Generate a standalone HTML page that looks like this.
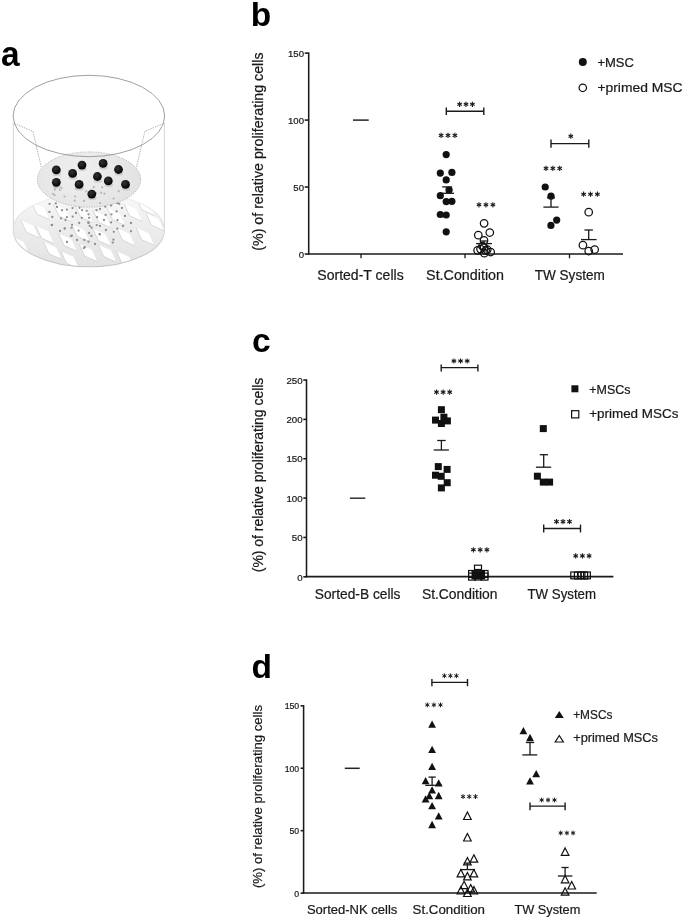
<!DOCTYPE html>
<html><head><meta charset="utf-8"><style>html,body{margin:0;padding:0;background:#fff;}svg{display:block;filter:grayscale(1) blur(0.3px);}text{font-family:"Liberation Sans",sans-serif;}</style></head><body>
<svg width="685" height="919" viewBox="0 0 685 919">
<rect width="685" height="919" fill="#fff"/>
<text x="1.00" y="66.40" font-size="34.5" text-anchor="start" font-weight="bold" fill="#000" textLength="18.60" lengthAdjust="spacingAndGlyphs" >a</text>
<text x="250.80" y="25.90" font-size="33.5" text-anchor="start" font-weight="bold" fill="#000" >b</text>
<text x="252.00" y="352.40" font-size="33.5" text-anchor="start" font-weight="bold" fill="#000" >c</text>
<text x="251.40" y="678.20" font-size="33.5" text-anchor="start" font-weight="bold" fill="#000" >d</text>
<line x1="308.70" y1="254.70" x2="308.70" y2="52.40" stroke="#1a1a1a" stroke-width="1.55" />
<line x1="304.70" y1="254.00" x2="308.70" y2="254.00" stroke="#1a1a1a" stroke-width="1.55" />
<text x="304.00" y="258.18" font-size="9.6" text-anchor="end" font-weight="normal" fill="#1a1a1a" stroke="#1a1a1a" stroke-width="0.22" >0</text>
<line x1="304.70" y1="187.03" x2="308.70" y2="187.03" stroke="#1a1a1a" stroke-width="1.55" />
<text x="304.00" y="191.21" font-size="9.6" text-anchor="end" font-weight="normal" fill="#1a1a1a" stroke="#1a1a1a" stroke-width="0.22" >50</text>
<line x1="304.70" y1="120.07" x2="308.70" y2="120.07" stroke="#1a1a1a" stroke-width="1.55" />
<text x="304.00" y="124.24" font-size="9.6" text-anchor="end" font-weight="normal" fill="#1a1a1a" stroke="#1a1a1a" stroke-width="0.22" >100</text>
<line x1="304.70" y1="53.10" x2="308.70" y2="53.10" stroke="#1a1a1a" stroke-width="1.55" />
<text x="304.00" y="57.28" font-size="9.6" text-anchor="end" font-weight="normal" fill="#1a1a1a" stroke="#1a1a1a" stroke-width="0.22" >150</text>
<line x1="308.10" y1="254.00" x2="623.00" y2="254.00" stroke="#1a1a1a" stroke-width="1.55" />
<line x1="361.00" y1="254.00" x2="361.00" y2="258.30" stroke="#1a1a1a" stroke-width="1.3" />
<line x1="465.00" y1="254.00" x2="465.00" y2="258.30" stroke="#1a1a1a" stroke-width="1.3" />
<line x1="569.50" y1="254.00" x2="569.50" y2="258.30" stroke="#1a1a1a" stroke-width="1.3" />
<text transform="translate(263.40,250.70) rotate(-90)" x="0" y="0" font-size="14" fill="#1a1a1a" stroke="#1a1a1a" stroke-width="0.22" textLength="198.20" lengthAdjust="spacingAndGlyphs">(%) of relative proliferating cells</text>
<text x="317.30" y="279.90" font-size="14" text-anchor="start" font-weight="normal" fill="#1a1a1a" stroke="#1a1a1a" stroke-width="0.22" textLength="86.40" lengthAdjust="spacingAndGlyphs" >Sorted-T cells</text>
<text x="426.10" y="279.90" font-size="14" text-anchor="start" font-weight="normal" fill="#1a1a1a" stroke="#1a1a1a" stroke-width="0.22" textLength="77.90" lengthAdjust="spacingAndGlyphs" >St.Condition</text>
<text x="534.70" y="279.90" font-size="14" text-anchor="start" font-weight="normal" fill="#1a1a1a" stroke="#1a1a1a" stroke-width="0.22" textLength="70.10" lengthAdjust="spacingAndGlyphs" >TW System</text>
<line x1="353.00" y1="120.10" x2="368.70" y2="120.10" stroke="#222" stroke-width="1.5" />
<line x1="446.30" y1="111.30" x2="483.80" y2="111.30" stroke="#1a1a1a" stroke-width="1.4" />
<line x1="446.30" y1="107.60" x2="446.30" y2="115.00" stroke="#1a1a1a" stroke-width="1.4" />
<line x1="483.80" y1="107.60" x2="483.80" y2="115.00" stroke="#1a1a1a" stroke-width="1.4" />
<line x1="459.60" y1="101.70" x2="459.60" y2="106.90" stroke="#1a1a1a" stroke-width="1.1" />
<line x1="457.35" y1="103.00" x2="461.85" y2="105.60" stroke="#1a1a1a" stroke-width="1.1" />
<line x1="461.85" y1="103.00" x2="457.35" y2="105.60" stroke="#1a1a1a" stroke-width="1.1" />
<line x1="466.00" y1="101.70" x2="466.00" y2="106.90" stroke="#1a1a1a" stroke-width="1.1" />
<line x1="463.75" y1="103.00" x2="468.25" y2="105.60" stroke="#1a1a1a" stroke-width="1.1" />
<line x1="468.25" y1="103.00" x2="463.75" y2="105.60" stroke="#1a1a1a" stroke-width="1.1" />
<line x1="472.40" y1="101.70" x2="472.40" y2="106.90" stroke="#1a1a1a" stroke-width="1.1" />
<line x1="470.15" y1="103.00" x2="474.65" y2="105.60" stroke="#1a1a1a" stroke-width="1.1" />
<line x1="474.65" y1="103.00" x2="470.15" y2="105.60" stroke="#1a1a1a" stroke-width="1.1" />
<line x1="551.00" y1="143.60" x2="588.80" y2="143.60" stroke="#1a1a1a" stroke-width="1.4" />
<line x1="551.00" y1="139.50" x2="551.00" y2="147.70" stroke="#1a1a1a" stroke-width="1.4" />
<line x1="588.80" y1="139.50" x2="588.80" y2="147.70" stroke="#1a1a1a" stroke-width="1.4" />
<line x1="570.80" y1="133.60" x2="570.80" y2="138.80" stroke="#1a1a1a" stroke-width="1.1" />
<line x1="568.55" y1="134.90" x2="573.05" y2="137.50" stroke="#1a1a1a" stroke-width="1.1" />
<line x1="573.05" y1="134.90" x2="568.55" y2="137.50" stroke="#1a1a1a" stroke-width="1.1" />
<line x1="441.10" y1="132.80" x2="441.10" y2="138.00" stroke="#1a1a1a" stroke-width="1.1" />
<line x1="438.85" y1="134.10" x2="443.35" y2="136.70" stroke="#1a1a1a" stroke-width="1.1" />
<line x1="443.35" y1="134.10" x2="438.85" y2="136.70" stroke="#1a1a1a" stroke-width="1.1" />
<line x1="448.00" y1="132.80" x2="448.00" y2="138.00" stroke="#1a1a1a" stroke-width="1.1" />
<line x1="445.75" y1="134.10" x2="450.25" y2="136.70" stroke="#1a1a1a" stroke-width="1.1" />
<line x1="450.25" y1="134.10" x2="445.75" y2="136.70" stroke="#1a1a1a" stroke-width="1.1" />
<line x1="454.90" y1="132.80" x2="454.90" y2="138.00" stroke="#1a1a1a" stroke-width="1.1" />
<line x1="452.65" y1="134.10" x2="457.15" y2="136.70" stroke="#1a1a1a" stroke-width="1.1" />
<line x1="457.15" y1="134.10" x2="452.65" y2="136.70" stroke="#1a1a1a" stroke-width="1.1" />
<line x1="479.00" y1="202.20" x2="479.00" y2="207.40" stroke="#1a1a1a" stroke-width="1.1" />
<line x1="476.75" y1="203.50" x2="481.25" y2="206.10" stroke="#1a1a1a" stroke-width="1.1" />
<line x1="481.25" y1="203.50" x2="476.75" y2="206.10" stroke="#1a1a1a" stroke-width="1.1" />
<line x1="485.95" y1="202.20" x2="485.95" y2="207.40" stroke="#1a1a1a" stroke-width="1.1" />
<line x1="483.70" y1="203.50" x2="488.20" y2="206.10" stroke="#1a1a1a" stroke-width="1.1" />
<line x1="488.20" y1="203.50" x2="483.70" y2="206.10" stroke="#1a1a1a" stroke-width="1.1" />
<line x1="492.90" y1="202.20" x2="492.90" y2="207.40" stroke="#1a1a1a" stroke-width="1.1" />
<line x1="490.65" y1="203.50" x2="495.15" y2="206.10" stroke="#1a1a1a" stroke-width="1.1" />
<line x1="495.15" y1="203.50" x2="490.65" y2="206.10" stroke="#1a1a1a" stroke-width="1.1" />
<line x1="546.00" y1="165.80" x2="546.00" y2="171.00" stroke="#1a1a1a" stroke-width="1.1" />
<line x1="543.75" y1="167.10" x2="548.25" y2="169.70" stroke="#1a1a1a" stroke-width="1.1" />
<line x1="548.25" y1="167.10" x2="543.75" y2="169.70" stroke="#1a1a1a" stroke-width="1.1" />
<line x1="552.85" y1="165.80" x2="552.85" y2="171.00" stroke="#1a1a1a" stroke-width="1.1" />
<line x1="550.60" y1="167.10" x2="555.10" y2="169.70" stroke="#1a1a1a" stroke-width="1.1" />
<line x1="555.10" y1="167.10" x2="550.60" y2="169.70" stroke="#1a1a1a" stroke-width="1.1" />
<line x1="559.70" y1="165.80" x2="559.70" y2="171.00" stroke="#1a1a1a" stroke-width="1.1" />
<line x1="557.45" y1="167.10" x2="561.95" y2="169.70" stroke="#1a1a1a" stroke-width="1.1" />
<line x1="561.95" y1="167.10" x2="557.45" y2="169.70" stroke="#1a1a1a" stroke-width="1.1" />
<line x1="583.60" y1="191.60" x2="583.60" y2="196.80" stroke="#1a1a1a" stroke-width="1.1" />
<line x1="581.35" y1="192.90" x2="585.85" y2="195.50" stroke="#1a1a1a" stroke-width="1.1" />
<line x1="585.85" y1="192.90" x2="581.35" y2="195.50" stroke="#1a1a1a" stroke-width="1.1" />
<line x1="590.50" y1="191.60" x2="590.50" y2="196.80" stroke="#1a1a1a" stroke-width="1.1" />
<line x1="588.25" y1="192.90" x2="592.75" y2="195.50" stroke="#1a1a1a" stroke-width="1.1" />
<line x1="592.75" y1="192.90" x2="588.25" y2="195.50" stroke="#1a1a1a" stroke-width="1.1" />
<line x1="597.40" y1="191.60" x2="597.40" y2="196.80" stroke="#1a1a1a" stroke-width="1.1" />
<line x1="595.15" y1="192.90" x2="599.65" y2="195.50" stroke="#1a1a1a" stroke-width="1.1" />
<line x1="599.65" y1="192.90" x2="595.15" y2="195.50" stroke="#1a1a1a" stroke-width="1.1" />
<circle cx="446.20" cy="154.60" r="3.6" fill="#111"/>
<circle cx="440.30" cy="173.10" r="3.6" fill="#111"/>
<circle cx="451.90" cy="172.40" r="3.6" fill="#111"/>
<circle cx="446.20" cy="179.90" r="3.6" fill="#111"/>
<circle cx="449.10" cy="190.00" r="3.6" fill="#111"/>
<circle cx="440.30" cy="195.70" r="3.6" fill="#111"/>
<circle cx="446.20" cy="201.60" r="3.6" fill="#111"/>
<circle cx="451.90" cy="201.30" r="3.6" fill="#111"/>
<circle cx="440.30" cy="214.50" r="3.6" fill="#111"/>
<circle cx="446.20" cy="215.00" r="3.6" fill="#111"/>
<circle cx="446.20" cy="231.80" r="3.6" fill="#111"/>
<line x1="446.50" y1="186.90" x2="446.50" y2="193.30" stroke="#1a1a1a" stroke-width="1.3" />
<line x1="442.20" y1="186.90" x2="452.20" y2="186.90" stroke="#1a1a1a" stroke-width="1.3" />
<line x1="441.50" y1="193.30" x2="454.00" y2="193.30" stroke="#1a1a1a" stroke-width="1.3" />
<circle cx="484.10" cy="223.30" r="3.75" fill="none" stroke="#111" stroke-width="1.25"/>
<circle cx="489.80" cy="232.50" r="3.75" fill="none" stroke="#111" stroke-width="1.25"/>
<circle cx="478.30" cy="235.20" r="3.75" fill="none" stroke="#111" stroke-width="1.25"/>
<circle cx="484.00" cy="240.40" r="3.75" fill="none" stroke="#111" stroke-width="1.25"/>
<circle cx="484.00" cy="247.40" r="3.75" fill="none" stroke="#111" stroke-width="1.25"/>
<circle cx="477.60" cy="250.30" r="3.75" fill="none" stroke="#111" stroke-width="1.25"/>
<circle cx="480.50" cy="249.10" r="3.75" fill="none" stroke="#111" stroke-width="1.25"/>
<circle cx="487.20" cy="249.70" r="3.75" fill="none" stroke="#111" stroke-width="1.25"/>
<circle cx="490.70" cy="252.00" r="3.75" fill="none" stroke="#111" stroke-width="1.25"/>
<circle cx="484.30" cy="253.20" r="3.75" fill="none" stroke="#111" stroke-width="1.25"/>
<circle cx="482.50" cy="246.20" r="3.75" fill="none" stroke="#111" stroke-width="1.25"/>
<circle cx="485.60" cy="250.60" r="3.75" fill="none" stroke="#111" stroke-width="1.25"/>
<line x1="484.00" y1="241.00" x2="484.00" y2="243.60" stroke="#1a1a1a" stroke-width="1.3" />
<line x1="480.80" y1="241.00" x2="487.20" y2="241.00" stroke="#1a1a1a" stroke-width="1.3" />
<line x1="476.10" y1="243.60" x2="491.90" y2="243.60" stroke="#1a1a1a" stroke-width="1.3" />
<circle cx="545.20" cy="187.00" r="3.6" fill="#111"/>
<circle cx="551.00" cy="196.20" r="3.6" fill="#111"/>
<circle cx="556.70" cy="220.10" r="3.6" fill="#111"/>
<circle cx="550.90" cy="225.40" r="3.6" fill="#111"/>
<line x1="551.00" y1="197.70" x2="551.00" y2="207.10" stroke="#1a1a1a" stroke-width="1.3" />
<line x1="547.00" y1="197.70" x2="555.00" y2="197.70" stroke="#1a1a1a" stroke-width="1.3" />
<line x1="543.40" y1="207.10" x2="558.60" y2="207.10" stroke="#1a1a1a" stroke-width="1.3" />
<circle cx="588.70" cy="212.20" r="3.75" fill="none" stroke="#111" stroke-width="1.25"/>
<circle cx="582.90" cy="245.20" r="3.75" fill="none" stroke="#111" stroke-width="1.25"/>
<circle cx="588.70" cy="251.00" r="3.75" fill="none" stroke="#111" stroke-width="1.25"/>
<circle cx="594.70" cy="249.50" r="3.75" fill="none" stroke="#111" stroke-width="1.25"/>
<line x1="588.70" y1="230.00" x2="588.70" y2="239.60" stroke="#1a1a1a" stroke-width="1.3" />
<line x1="584.40" y1="230.00" x2="592.90" y2="230.00" stroke="#1a1a1a" stroke-width="1.3" />
<line x1="581.00" y1="239.60" x2="596.60" y2="239.60" stroke="#1a1a1a" stroke-width="1.3" />
<circle cx="582.80" cy="61.90" r="4.0" fill="#111"/>
<circle cx="582.80" cy="87.80" r="3.7" fill="none" stroke="#111" stroke-width="1.25"/>
<text x="597.40" y="67.00" font-size="13" text-anchor="start" font-weight="normal" fill="#1a1a1a" stroke="#1a1a1a" stroke-width="0.22" textLength="36.50" lengthAdjust="spacingAndGlyphs" >+MSC</text>
<text x="597.40" y="92.00" font-size="13" text-anchor="start" font-weight="normal" fill="#1a1a1a" stroke="#1a1a1a" stroke-width="0.22" textLength="85.20" lengthAdjust="spacingAndGlyphs" >+primed MSC</text>
<line x1="306.50" y1="577.50" x2="306.50" y2="379.30" stroke="#1a1a1a" stroke-width="1.55" />
<line x1="303.30" y1="576.80" x2="306.50" y2="576.80" stroke="#1a1a1a" stroke-width="1.55" />
<text x="302.60" y="580.52" font-size="9.7" text-anchor="end" font-weight="normal" fill="#1a1a1a" stroke="#1a1a1a" stroke-width="0.22" >0</text>
<line x1="303.30" y1="537.44" x2="306.50" y2="537.44" stroke="#1a1a1a" stroke-width="1.55" />
<text x="302.60" y="541.16" font-size="9.7" text-anchor="end" font-weight="normal" fill="#1a1a1a" stroke="#1a1a1a" stroke-width="0.22" >50</text>
<line x1="303.30" y1="498.08" x2="306.50" y2="498.08" stroke="#1a1a1a" stroke-width="1.55" />
<text x="302.60" y="501.80" font-size="9.7" text-anchor="end" font-weight="normal" fill="#1a1a1a" stroke="#1a1a1a" stroke-width="0.22" >100</text>
<line x1="303.30" y1="458.72" x2="306.50" y2="458.72" stroke="#1a1a1a" stroke-width="1.55" />
<text x="302.60" y="462.44" font-size="9.7" text-anchor="end" font-weight="normal" fill="#1a1a1a" stroke="#1a1a1a" stroke-width="0.22" >150</text>
<line x1="303.30" y1="419.36" x2="306.50" y2="419.36" stroke="#1a1a1a" stroke-width="1.55" />
<text x="302.60" y="423.08" font-size="9.7" text-anchor="end" font-weight="normal" fill="#1a1a1a" stroke="#1a1a1a" stroke-width="0.22" >200</text>
<line x1="303.30" y1="380.00" x2="306.50" y2="380.00" stroke="#1a1a1a" stroke-width="1.55" />
<text x="302.60" y="383.72" font-size="9.7" text-anchor="end" font-weight="normal" fill="#1a1a1a" stroke="#1a1a1a" stroke-width="0.22" >250</text>
<line x1="305.90" y1="576.60" x2="613.40" y2="576.60" stroke="#1a1a1a" stroke-width="1.55" />
<text transform="translate(263.00,572.20) rotate(-90)" x="0" y="0" font-size="14" fill="#1a1a1a" stroke="#1a1a1a" stroke-width="0.22" textLength="194.50" lengthAdjust="spacingAndGlyphs">(%) of relative proliferating cells</text>
<text x="314.80" y="598.80" font-size="14" text-anchor="start" font-weight="normal" fill="#1a1a1a" stroke="#1a1a1a" stroke-width="0.22" textLength="85.60" lengthAdjust="spacingAndGlyphs" >Sorted-B cells</text>
<text x="421.90" y="598.80" font-size="14" text-anchor="start" font-weight="normal" fill="#1a1a1a" stroke="#1a1a1a" stroke-width="0.22" textLength="75.50" lengthAdjust="spacingAndGlyphs" >St.Condition</text>
<text x="527.50" y="598.80" font-size="14" text-anchor="start" font-weight="normal" fill="#1a1a1a" stroke="#1a1a1a" stroke-width="0.22" textLength="68.50" lengthAdjust="spacingAndGlyphs" >TW System</text>
<line x1="349.90" y1="498.20" x2="365.30" y2="498.20" stroke="#333" stroke-width="1.5" />
<line x1="441.20" y1="367.60" x2="477.90" y2="367.60" stroke="#1a1a1a" stroke-width="1.4" />
<line x1="441.20" y1="364.40" x2="441.20" y2="371.50" stroke="#1a1a1a" stroke-width="1.4" />
<line x1="477.90" y1="364.40" x2="477.90" y2="371.50" stroke="#1a1a1a" stroke-width="1.4" />
<line x1="453.90" y1="358.40" x2="453.90" y2="363.60" stroke="#1a1a1a" stroke-width="1.1" />
<line x1="451.65" y1="359.70" x2="456.15" y2="362.30" stroke="#1a1a1a" stroke-width="1.1" />
<line x1="456.15" y1="359.70" x2="451.65" y2="362.30" stroke="#1a1a1a" stroke-width="1.1" />
<line x1="460.55" y1="358.40" x2="460.55" y2="363.60" stroke="#1a1a1a" stroke-width="1.1" />
<line x1="458.30" y1="359.70" x2="462.80" y2="362.30" stroke="#1a1a1a" stroke-width="1.1" />
<line x1="462.80" y1="359.70" x2="458.30" y2="362.30" stroke="#1a1a1a" stroke-width="1.1" />
<line x1="467.20" y1="358.40" x2="467.20" y2="363.60" stroke="#1a1a1a" stroke-width="1.1" />
<line x1="464.95" y1="359.70" x2="469.45" y2="362.30" stroke="#1a1a1a" stroke-width="1.1" />
<line x1="469.45" y1="359.70" x2="464.95" y2="362.30" stroke="#1a1a1a" stroke-width="1.1" />
<line x1="543.70" y1="528.50" x2="580.50" y2="528.50" stroke="#1a1a1a" stroke-width="1.4" />
<line x1="543.70" y1="524.60" x2="543.70" y2="532.40" stroke="#1a1a1a" stroke-width="1.4" />
<line x1="580.50" y1="524.60" x2="580.50" y2="532.40" stroke="#1a1a1a" stroke-width="1.4" />
<line x1="556.50" y1="519.00" x2="556.50" y2="524.20" stroke="#1a1a1a" stroke-width="1.1" />
<line x1="554.25" y1="520.30" x2="558.75" y2="522.90" stroke="#1a1a1a" stroke-width="1.1" />
<line x1="558.75" y1="520.30" x2="554.25" y2="522.90" stroke="#1a1a1a" stroke-width="1.1" />
<line x1="563.00" y1="519.00" x2="563.00" y2="524.20" stroke="#1a1a1a" stroke-width="1.1" />
<line x1="560.75" y1="520.30" x2="565.25" y2="522.90" stroke="#1a1a1a" stroke-width="1.1" />
<line x1="565.25" y1="520.30" x2="560.75" y2="522.90" stroke="#1a1a1a" stroke-width="1.1" />
<line x1="569.50" y1="519.00" x2="569.50" y2="524.20" stroke="#1a1a1a" stroke-width="1.1" />
<line x1="567.25" y1="520.30" x2="571.75" y2="522.90" stroke="#1a1a1a" stroke-width="1.1" />
<line x1="571.75" y1="520.30" x2="567.25" y2="522.90" stroke="#1a1a1a" stroke-width="1.1" />
<line x1="436.50" y1="389.50" x2="436.50" y2="394.70" stroke="#1a1a1a" stroke-width="1.1" />
<line x1="434.25" y1="390.80" x2="438.75" y2="393.40" stroke="#1a1a1a" stroke-width="1.1" />
<line x1="438.75" y1="390.80" x2="434.25" y2="393.40" stroke="#1a1a1a" stroke-width="1.1" />
<line x1="443.10" y1="389.50" x2="443.10" y2="394.70" stroke="#1a1a1a" stroke-width="1.1" />
<line x1="440.85" y1="390.80" x2="445.35" y2="393.40" stroke="#1a1a1a" stroke-width="1.1" />
<line x1="445.35" y1="390.80" x2="440.85" y2="393.40" stroke="#1a1a1a" stroke-width="1.1" />
<line x1="449.70" y1="389.50" x2="449.70" y2="394.70" stroke="#1a1a1a" stroke-width="1.1" />
<line x1="447.45" y1="390.80" x2="451.95" y2="393.40" stroke="#1a1a1a" stroke-width="1.1" />
<line x1="451.95" y1="390.80" x2="447.45" y2="393.40" stroke="#1a1a1a" stroke-width="1.1" />
<line x1="473.40" y1="547.20" x2="473.40" y2="552.40" stroke="#1a1a1a" stroke-width="1.1" />
<line x1="471.15" y1="548.50" x2="475.65" y2="551.10" stroke="#1a1a1a" stroke-width="1.1" />
<line x1="475.65" y1="548.50" x2="471.15" y2="551.10" stroke="#1a1a1a" stroke-width="1.1" />
<line x1="480.15" y1="547.20" x2="480.15" y2="552.40" stroke="#1a1a1a" stroke-width="1.1" />
<line x1="477.90" y1="548.50" x2="482.40" y2="551.10" stroke="#1a1a1a" stroke-width="1.1" />
<line x1="482.40" y1="548.50" x2="477.90" y2="551.10" stroke="#1a1a1a" stroke-width="1.1" />
<line x1="486.90" y1="547.20" x2="486.90" y2="552.40" stroke="#1a1a1a" stroke-width="1.1" />
<line x1="484.65" y1="548.50" x2="489.15" y2="551.10" stroke="#1a1a1a" stroke-width="1.1" />
<line x1="489.15" y1="548.50" x2="484.65" y2="551.10" stroke="#1a1a1a" stroke-width="1.1" />
<line x1="575.70" y1="553.30" x2="575.70" y2="558.50" stroke="#1a1a1a" stroke-width="1.1" />
<line x1="573.45" y1="554.60" x2="577.95" y2="557.20" stroke="#1a1a1a" stroke-width="1.1" />
<line x1="577.95" y1="554.60" x2="573.45" y2="557.20" stroke="#1a1a1a" stroke-width="1.1" />
<line x1="582.40" y1="553.30" x2="582.40" y2="558.50" stroke="#1a1a1a" stroke-width="1.1" />
<line x1="580.15" y1="554.60" x2="584.65" y2="557.20" stroke="#1a1a1a" stroke-width="1.1" />
<line x1="584.65" y1="554.60" x2="580.15" y2="557.20" stroke="#1a1a1a" stroke-width="1.1" />
<line x1="589.10" y1="553.30" x2="589.10" y2="558.50" stroke="#1a1a1a" stroke-width="1.1" />
<line x1="586.85" y1="554.60" x2="591.35" y2="557.20" stroke="#1a1a1a" stroke-width="1.1" />
<line x1="591.35" y1="554.60" x2="586.85" y2="557.20" stroke="#1a1a1a" stroke-width="1.1" />
<rect x="437.90" y="406.20" width="7.0" height="7.0" fill="#111"/>
<rect x="432.00" y="416.60" width="7.0" height="7.0" fill="#111"/>
<rect x="440.40" y="413.70" width="7.0" height="7.0" fill="#111"/>
<rect x="443.90" y="417.40" width="7.0" height="7.0" fill="#111"/>
<rect x="437.90" y="420.00" width="7.0" height="7.0" fill="#111"/>
<rect x="434.80" y="463.10" width="7.0" height="7.0" fill="#111"/>
<rect x="443.60" y="465.90" width="7.0" height="7.0" fill="#111"/>
<rect x="432.00" y="471.70" width="7.0" height="7.0" fill="#111"/>
<rect x="437.70" y="472.80" width="7.0" height="7.0" fill="#111"/>
<rect x="443.70" y="479.20" width="7.0" height="7.0" fill="#111"/>
<rect x="437.90" y="484.40" width="7.0" height="7.0" fill="#111"/>
<line x1="441.40" y1="440.50" x2="441.40" y2="450.00" stroke="#1a1a1a" stroke-width="1.3" />
<line x1="437.20" y1="440.50" x2="445.70" y2="440.50" stroke="#1a1a1a" stroke-width="1.3" />
<line x1="433.70" y1="450.00" x2="448.90" y2="450.00" stroke="#1a1a1a" stroke-width="1.3" />
<rect x="474.50" y="565.20" width="7.0" height="7.0" fill="none" stroke="#111" stroke-width="1.2"/>
<rect x="471.5" y="571.0" width="13.5" height="8.4" fill="#111"/>
<rect x="474.2" y="568.9" width="7.6" height="3" fill="#111"/>
<rect x="468.60" y="570.50" width="7.0" height="7.0" fill="none" stroke="#111" stroke-width="1.2"/>
<rect x="468.60" y="573.10" width="7.0" height="7.0" fill="none" stroke="#111" stroke-width="1.2"/>
<rect x="481.00" y="570.50" width="7.0" height="7.0" fill="none" stroke="#111" stroke-width="1.2"/>
<rect x="481.00" y="573.10" width="7.0" height="7.0" fill="none" stroke="#111" stroke-width="1.2"/>
<rect x="473.00" y="570.70" width="7.0" height="7.0" fill="none" stroke="#111" stroke-width="1.2"/>
<rect x="477.00" y="570.70" width="7.0" height="7.0" fill="none" stroke="#111" stroke-width="1.2"/>
<rect x="474.70" y="573.00" width="7.0" height="7.0" fill="none" stroke="#111" stroke-width="1.2"/>
<line x1="474.00" y1="571.00" x2="482.00" y2="571.00" stroke="#1a1a1a" stroke-width="1.4" />
<rect x="539.80" y="425.10" width="7.0" height="7.0" fill="#111"/>
<rect x="533.90" y="472.70" width="7.0" height="7.0" fill="#111"/>
<rect x="539.80" y="478.60" width="7.0" height="7.0" fill="#111"/>
<rect x="546.10" y="478.60" width="7.0" height="7.0" fill="#111"/>
<line x1="543.70" y1="454.70" x2="543.70" y2="467.20" stroke="#1a1a1a" stroke-width="1.3" />
<line x1="539.80" y1="454.70" x2="548.00" y2="454.70" stroke="#1a1a1a" stroke-width="1.3" />
<line x1="535.90" y1="467.20" x2="551.20" y2="467.20" stroke="#1a1a1a" stroke-width="1.3" />
<rect x="570.80" y="572.00" width="6.8" height="6.8" fill="none" stroke="#111" stroke-width="1.2"/>
<rect x="574.40" y="572.20" width="6.8" height="6.8" fill="none" stroke="#111" stroke-width="1.2"/>
<rect x="578.10" y="571.80" width="6.8" height="6.8" fill="none" stroke="#111" stroke-width="1.2"/>
<rect x="580.80" y="572.20" width="6.8" height="6.8" fill="none" stroke="#111" stroke-width="1.2"/>
<rect x="583.60" y="572.00" width="6.8" height="6.8" fill="none" stroke="#111" stroke-width="1.2"/>
<rect x="571.40" y="385.30" width="7.0" height="7.0" fill="#111"/>
<rect x="571.60" y="410.70" width="7.2" height="7.2" fill="none" stroke="#111" stroke-width="1.2"/>
<text x="589.20" y="393.70" font-size="13" text-anchor="start" font-weight="normal" fill="#1a1a1a" stroke="#1a1a1a" stroke-width="0.22" textLength="41.30" lengthAdjust="spacingAndGlyphs" >+MSCs</text>
<text x="589.20" y="418.40" font-size="13" text-anchor="start" font-weight="normal" fill="#1a1a1a" stroke="#1a1a1a" stroke-width="0.22" textLength="89.20" lengthAdjust="spacingAndGlyphs" >+primed MSCs</text>
<line x1="303.60" y1="893.80" x2="303.60" y2="705.10" stroke="#1a1a1a" stroke-width="1.55" />
<line x1="300.60" y1="893.10" x2="303.60" y2="893.10" stroke="#1a1a1a" stroke-width="1.55" />
<text x="299.20" y="896.66" font-size="8.7" text-anchor="end" font-weight="normal" fill="#1a1a1a" stroke="#1a1a1a" stroke-width="0.22" >0</text>
<line x1="300.60" y1="830.67" x2="303.60" y2="830.67" stroke="#1a1a1a" stroke-width="1.55" />
<text x="299.20" y="834.23" font-size="8.7" text-anchor="end" font-weight="normal" fill="#1a1a1a" stroke="#1a1a1a" stroke-width="0.22" >50</text>
<line x1="300.60" y1="768.23" x2="303.60" y2="768.23" stroke="#1a1a1a" stroke-width="1.55" />
<text x="299.20" y="771.80" font-size="8.7" text-anchor="end" font-weight="normal" fill="#1a1a1a" stroke="#1a1a1a" stroke-width="0.22" >100</text>
<line x1="300.60" y1="705.80" x2="303.60" y2="705.80" stroke="#1a1a1a" stroke-width="1.55" />
<text x="299.20" y="709.36" font-size="8.7" text-anchor="end" font-weight="normal" fill="#1a1a1a" stroke="#1a1a1a" stroke-width="0.22" >150</text>
<line x1="302.60" y1="892.90" x2="596.70" y2="892.90" stroke="#1a1a1a" stroke-width="1.55" />
<text transform="translate(262.30,888.10) rotate(-90)" x="0" y="0" font-size="13.5" fill="#1a1a1a" stroke="#1a1a1a" stroke-width="0.22" textLength="183.10" lengthAdjust="spacingAndGlyphs">(%) of relative proliferating cells</text>
<text x="306.90" y="913.80" font-size="13" text-anchor="start" font-weight="normal" fill="#1a1a1a" stroke="#1a1a1a" stroke-width="0.22" textLength="90.50" lengthAdjust="spacingAndGlyphs" >Sorted-NK cells</text>
<text x="412.60" y="913.80" font-size="13" text-anchor="start" font-weight="normal" fill="#1a1a1a" stroke="#1a1a1a" stroke-width="0.22" textLength="72.40" lengthAdjust="spacingAndGlyphs" >St.Condition</text>
<text x="514.40" y="913.80" font-size="13" text-anchor="start" font-weight="normal" fill="#1a1a1a" stroke="#1a1a1a" stroke-width="0.22" textLength="65.90" lengthAdjust="spacingAndGlyphs" >TW System</text>
<line x1="344.80" y1="768.30" x2="359.70" y2="768.30" stroke="#222" stroke-width="1.5" />
<line x1="431.90" y1="682.40" x2="467.50" y2="682.40" stroke="#1a1a1a" stroke-width="1.4" />
<line x1="431.90" y1="679.00" x2="431.90" y2="686.20" stroke="#1a1a1a" stroke-width="1.4" />
<line x1="467.50" y1="679.00" x2="467.50" y2="686.20" stroke="#1a1a1a" stroke-width="1.4" />
<line x1="444.40" y1="673.40" x2="444.40" y2="678.20" stroke="#1a1a1a" stroke-width="1.0" />
<line x1="442.32" y1="674.60" x2="446.48" y2="677.00" stroke="#1a1a1a" stroke-width="1.0" />
<line x1="446.48" y1="674.60" x2="442.32" y2="677.00" stroke="#1a1a1a" stroke-width="1.0" />
<line x1="450.40" y1="673.40" x2="450.40" y2="678.20" stroke="#1a1a1a" stroke-width="1.0" />
<line x1="448.32" y1="674.60" x2="452.48" y2="677.00" stroke="#1a1a1a" stroke-width="1.0" />
<line x1="452.48" y1="674.60" x2="448.32" y2="677.00" stroke="#1a1a1a" stroke-width="1.0" />
<line x1="456.40" y1="673.40" x2="456.40" y2="678.20" stroke="#1a1a1a" stroke-width="1.0" />
<line x1="454.32" y1="674.60" x2="458.48" y2="677.00" stroke="#1a1a1a" stroke-width="1.0" />
<line x1="458.48" y1="674.60" x2="454.32" y2="677.00" stroke="#1a1a1a" stroke-width="1.0" />
<line x1="530.00" y1="806.10" x2="565.10" y2="806.10" stroke="#1a1a1a" stroke-width="1.4" />
<line x1="530.00" y1="802.60" x2="530.00" y2="810.30" stroke="#1a1a1a" stroke-width="1.4" />
<line x1="565.10" y1="802.60" x2="565.10" y2="810.30" stroke="#1a1a1a" stroke-width="1.4" />
<line x1="541.70" y1="797.60" x2="541.70" y2="802.40" stroke="#1a1a1a" stroke-width="1.0" />
<line x1="539.62" y1="798.80" x2="543.78" y2="801.20" stroke="#1a1a1a" stroke-width="1.0" />
<line x1="543.78" y1="798.80" x2="539.62" y2="801.20" stroke="#1a1a1a" stroke-width="1.0" />
<line x1="548.10" y1="797.60" x2="548.10" y2="802.40" stroke="#1a1a1a" stroke-width="1.0" />
<line x1="546.02" y1="798.80" x2="550.18" y2="801.20" stroke="#1a1a1a" stroke-width="1.0" />
<line x1="550.18" y1="798.80" x2="546.02" y2="801.20" stroke="#1a1a1a" stroke-width="1.0" />
<line x1="554.50" y1="797.60" x2="554.50" y2="802.40" stroke="#1a1a1a" stroke-width="1.0" />
<line x1="552.42" y1="798.80" x2="556.58" y2="801.20" stroke="#1a1a1a" stroke-width="1.0" />
<line x1="556.58" y1="798.80" x2="552.42" y2="801.20" stroke="#1a1a1a" stroke-width="1.0" />
<line x1="427.30" y1="702.50" x2="427.30" y2="707.30" stroke="#1a1a1a" stroke-width="1.0" />
<line x1="425.22" y1="703.70" x2="429.38" y2="706.10" stroke="#1a1a1a" stroke-width="1.0" />
<line x1="429.38" y1="703.70" x2="425.22" y2="706.10" stroke="#1a1a1a" stroke-width="1.0" />
<line x1="433.90" y1="702.50" x2="433.90" y2="707.30" stroke="#1a1a1a" stroke-width="1.0" />
<line x1="431.82" y1="703.70" x2="435.98" y2="706.10" stroke="#1a1a1a" stroke-width="1.0" />
<line x1="435.98" y1="703.70" x2="431.82" y2="706.10" stroke="#1a1a1a" stroke-width="1.0" />
<line x1="440.50" y1="702.50" x2="440.50" y2="707.30" stroke="#1a1a1a" stroke-width="1.0" />
<line x1="438.42" y1="703.70" x2="442.58" y2="706.10" stroke="#1a1a1a" stroke-width="1.0" />
<line x1="442.58" y1="703.70" x2="438.42" y2="706.10" stroke="#1a1a1a" stroke-width="1.0" />
<line x1="463.00" y1="794.20" x2="463.00" y2="799.00" stroke="#1a1a1a" stroke-width="1.0" />
<line x1="460.92" y1="795.40" x2="465.08" y2="797.80" stroke="#1a1a1a" stroke-width="1.0" />
<line x1="465.08" y1="795.40" x2="460.92" y2="797.80" stroke="#1a1a1a" stroke-width="1.0" />
<line x1="469.25" y1="794.20" x2="469.25" y2="799.00" stroke="#1a1a1a" stroke-width="1.0" />
<line x1="467.17" y1="795.40" x2="471.33" y2="797.80" stroke="#1a1a1a" stroke-width="1.0" />
<line x1="471.33" y1="795.40" x2="467.17" y2="797.80" stroke="#1a1a1a" stroke-width="1.0" />
<line x1="475.50" y1="794.20" x2="475.50" y2="799.00" stroke="#1a1a1a" stroke-width="1.0" />
<line x1="473.42" y1="795.40" x2="477.58" y2="797.80" stroke="#1a1a1a" stroke-width="1.0" />
<line x1="477.58" y1="795.40" x2="473.42" y2="797.80" stroke="#1a1a1a" stroke-width="1.0" />
<line x1="560.70" y1="830.60" x2="560.70" y2="835.40" stroke="#1a1a1a" stroke-width="1.0" />
<line x1="558.62" y1="831.80" x2="562.78" y2="834.20" stroke="#1a1a1a" stroke-width="1.0" />
<line x1="562.78" y1="831.80" x2="558.62" y2="834.20" stroke="#1a1a1a" stroke-width="1.0" />
<line x1="566.90" y1="830.60" x2="566.90" y2="835.40" stroke="#1a1a1a" stroke-width="1.0" />
<line x1="564.82" y1="831.80" x2="568.98" y2="834.20" stroke="#1a1a1a" stroke-width="1.0" />
<line x1="568.98" y1="831.80" x2="564.82" y2="834.20" stroke="#1a1a1a" stroke-width="1.0" />
<line x1="573.10" y1="830.60" x2="573.10" y2="835.40" stroke="#1a1a1a" stroke-width="1.0" />
<line x1="571.02" y1="831.80" x2="575.18" y2="834.20" stroke="#1a1a1a" stroke-width="1.0" />
<line x1="575.18" y1="831.80" x2="571.02" y2="834.20" stroke="#1a1a1a" stroke-width="1.0" />
<polygon points="432.10,720.55 436.00,727.85 428.20,727.85" fill="#111"/>
<polygon points="432.10,745.75 436.00,753.05 428.20,753.05" fill="#111"/>
<polygon points="432.10,762.65 436.00,769.95 428.20,769.95" fill="#111"/>
<polygon points="425.60,776.95 429.50,784.25 421.70,784.25" fill="#111"/>
<polygon points="438.70,779.15 442.60,786.45 434.80,786.45" fill="#111"/>
<polygon points="432.10,786.15 436.00,793.45 428.20,793.45" fill="#111"/>
<polygon points="438.70,791.85 442.60,799.15 434.80,799.15" fill="#111"/>
<polygon points="425.60,795.15 429.50,802.45 421.70,802.45" fill="#111"/>
<polygon points="429.30,792.05 433.20,799.35 425.40,799.35" fill="#111"/>
<polygon points="432.10,802.05 436.00,809.35 428.20,809.35" fill="#111"/>
<polygon points="438.70,812.25 442.60,819.55 434.80,819.55" fill="#111"/>
<polygon points="432.10,820.85 436.00,828.15 428.20,828.15" fill="#111"/>
<line x1="432.10" y1="777.10" x2="432.10" y2="785.30" stroke="#1a1a1a" stroke-width="1.3" />
<line x1="428.50" y1="777.10" x2="435.80" y2="777.10" stroke="#1a1a1a" stroke-width="1.3" />
<line x1="425.20" y1="785.30" x2="442.00" y2="785.30" stroke="#1a1a1a" stroke-width="1.3" />
<polygon points="467.40,812.10 471.20,819.50 463.60,819.50" fill="none" stroke="#111" stroke-width="1.2" stroke-linejoin="miter"/>
<polygon points="467.40,833.60 471.20,841.00 463.60,841.00" fill="none" stroke="#111" stroke-width="1.2" stroke-linejoin="miter"/>
<polygon points="467.40,857.50 471.20,864.90 463.60,864.90" fill="none" stroke="#111" stroke-width="1.2" stroke-linejoin="miter"/>
<polygon points="473.90,854.80 477.70,862.20 470.10,862.20" fill="none" stroke="#111" stroke-width="1.2" stroke-linejoin="miter"/>
<polygon points="460.90,869.50 464.70,876.90 457.10,876.90" fill="none" stroke="#111" stroke-width="1.2" stroke-linejoin="miter"/>
<polygon points="473.90,869.50 477.70,876.90 470.10,876.90" fill="none" stroke="#111" stroke-width="1.2" stroke-linejoin="miter"/>
<polygon points="467.40,872.50 471.20,879.90 463.60,879.90" fill="none" stroke="#111" stroke-width="1.2" stroke-linejoin="miter"/>
<polygon points="464.10,881.20 467.90,888.60 460.30,888.60" fill="none" stroke="#111" stroke-width="1.2" stroke-linejoin="miter"/>
<polygon points="460.90,886.60 464.70,894.00 457.10,894.00" fill="none" stroke="#111" stroke-width="1.2" stroke-linejoin="miter"/>
<polygon points="470.70,884.50 474.50,891.90 466.90,891.90" fill="none" stroke="#111" stroke-width="1.2" stroke-linejoin="miter"/>
<polygon points="473.90,886.60 477.70,894.00 470.10,894.00" fill="none" stroke="#111" stroke-width="1.2" stroke-linejoin="miter"/>
<polygon points="467.40,889.10 471.20,896.50 463.60,896.50" fill="none" stroke="#111" stroke-width="1.2" stroke-linejoin="miter"/>
<line x1="467.40" y1="863.10" x2="467.40" y2="869.60" stroke="#1a1a1a" stroke-width="1.3" />
<line x1="463.80" y1="863.10" x2="471.00" y2="863.10" stroke="#1a1a1a" stroke-width="1.3" />
<line x1="460.00" y1="869.60" x2="475.00" y2="869.60" stroke="#1a1a1a" stroke-width="1.3" />
<polygon points="523.40,727.05 527.30,734.35 519.50,734.35" fill="#111"/>
<polygon points="530.00,733.85 533.90,741.15 526.10,741.15" fill="#111"/>
<polygon points="536.20,770.05 540.10,777.35 532.30,777.35" fill="#111"/>
<polygon points="530.00,777.25 533.90,784.55 526.10,784.55" fill="#111"/>
<line x1="530.00" y1="742.50" x2="530.00" y2="754.90" stroke="#1a1a1a" stroke-width="1.3" />
<line x1="525.80" y1="742.50" x2="534.10" y2="742.50" stroke="#1a1a1a" stroke-width="1.3" />
<line x1="522.30" y1="754.90" x2="537.20" y2="754.90" stroke="#1a1a1a" stroke-width="1.3" />
<polygon points="565.10,847.90 568.90,855.30 561.30,855.30" fill="none" stroke="#111" stroke-width="1.2" stroke-linejoin="miter"/>
<polygon points="565.10,875.40 568.90,882.80 561.30,882.80" fill="none" stroke="#111" stroke-width="1.2" stroke-linejoin="miter"/>
<polygon points="571.70,881.60 575.50,889.00 567.90,889.00" fill="none" stroke="#111" stroke-width="1.2" stroke-linejoin="miter"/>
<polygon points="565.10,887.80 568.90,895.20 561.30,895.20" fill="none" stroke="#111" stroke-width="1.2" stroke-linejoin="miter"/>
<line x1="565.10" y1="867.50" x2="565.10" y2="876.00" stroke="#1a1a1a" stroke-width="1.3" />
<line x1="561.40" y1="867.50" x2="568.60" y2="867.50" stroke="#1a1a1a" stroke-width="1.3" />
<line x1="557.90" y1="876.00" x2="572.40" y2="876.00" stroke="#1a1a1a" stroke-width="1.3" />
<polygon points="559.3,711.0 563.8,718.0 554.8,718.0" fill="#111"/>
<polygon points="559.3,735.5 563.4,742.0 555.2,742.0" fill="none" stroke="#111" stroke-width="1.2"/>
<text x="573.20" y="718.50" font-size="12.5" text-anchor="start" font-weight="normal" fill="#1a1a1a" stroke="#1a1a1a" stroke-width="0.22" textLength="39.20" lengthAdjust="spacingAndGlyphs" >+MSCs</text>
<text x="573.20" y="742.40" font-size="12.5" text-anchor="start" font-weight="normal" fill="#1a1a1a" stroke="#1a1a1a" stroke-width="0.22" textLength="84.80" lengthAdjust="spacingAndGlyphs" >+primed MSCs</text>
<g id="pa">
<defs>
<linearGradient id="gb" x1="0" y1="193" x2="0" y2="268" gradientUnits="userSpaceOnUse">
<stop offset="0" stop-color="#fafafa"/><stop offset="0.35" stop-color="#efefef"/><stop offset="1" stop-color="#e2e2e2"/></linearGradient>
<radialGradient id="gm" cx="80" cy="170" r="60" gradientUnits="userSpaceOnUse">
<stop offset="0" stop-color="#eeeeee"/><stop offset="1" stop-color="#e0e0e0"/></radialGradient>
<clipPath id="cb"><ellipse cx="88.8" cy="230.2" rx="75.6" ry="36.6"/></clipPath>
<radialGradient id="gc" cx="0.4" cy="0.35" r="0.7"><stop offset="0" stop-color="#333"/><stop offset="1" stop-color="#000"/></radialGradient>
</defs>
<line x1="13.4" y1="123" x2="13.4" y2="228" stroke="#d6d6d6" stroke-width="1"/>
<line x1="164.4" y1="123" x2="164.4" y2="228" stroke="#d6d6d6" stroke-width="1"/>
<ellipse cx="88.8" cy="230.2" rx="75.6" ry="36.6" fill="url(#gb)"/>
<g clip-path="url(#cb)">
<polygon points="20.8,220.2 33.3,225.7 38.8,237.7 26.3,232.2" fill="#fff"/>
<polyline points="20.8,220.2 26.3,232.2 38.8,237.7" fill="none" stroke="#c4c4c4" stroke-width="0.6"/>
<polygon points="35.9,226.1 48.4,231.6 53.9,243.6 41.4,238.1" fill="#fff"/>
<polyline points="35.9,226.1 41.4,238.1 53.9,243.6" fill="none" stroke="#c4c4c4" stroke-width="0.6"/>
<polygon points="43.5,241.8 56.0,247.2 61.5,259.2 49.0,253.8" fill="#fff"/>
<polyline points="43.5,241.8 49.0,253.8 61.5,259.2" fill="none" stroke="#c4c4c4" stroke-width="0.6"/>
<polygon points="31.3,202.1 43.8,207.6 49.3,219.6 36.8,214.1" fill="#fff"/>
<polyline points="31.3,202.1 36.8,214.1 49.3,219.6" fill="none" stroke="#c4c4c4" stroke-width="0.6"/>
<polygon points="58.7,233.6 71.2,239.1 76.7,251.1 64.2,245.6" fill="#fff"/>
<polyline points="58.7,233.6 64.2,245.6 76.7,251.1" fill="none" stroke="#c4c4c4" stroke-width="0.6"/>
<polygon points="53.5,204.2 66.0,209.8 71.5,221.8 59.0,216.2" fill="#fff"/>
<polyline points="53.5,204.2 59.0,216.2 71.5,221.8" fill="none" stroke="#c4c4c4" stroke-width="0.6"/>
<polygon points="79.2,244.1 91.7,249.6 97.2,261.6 84.7,256.1" fill="#fff"/>
<polyline points="79.2,244.1 84.7,256.1 97.2,261.6" fill="none" stroke="#c4c4c4" stroke-width="0.6"/>
<polygon points="71.6,224.2 84.1,229.8 89.6,241.8 77.1,236.2" fill="#fff"/>
<polyline points="71.6,224.2 77.1,236.2 89.6,241.8" fill="none" stroke="#c4c4c4" stroke-width="0.6"/>
<polygon points="136.2,197.8 148.7,203.3 154.2,215.3 141.7,209.8" fill="#fff"/>
<polyline points="136.2,197.8 141.7,209.8 154.2,215.3" fill="none" stroke="#c4c4c4" stroke-width="0.6"/>
<polygon points="124.0,203.8 136.5,209.3 142.0,221.3 129.5,215.8" fill="#fff"/>
<polyline points="124.0,203.8 129.5,215.8 142.0,221.3" fill="none" stroke="#c4c4c4" stroke-width="0.6"/>
<polygon points="136.2,227.8 148.7,233.2 154.2,245.2 141.7,239.8" fill="#fff"/>
<polyline points="136.2,227.8 141.7,239.8 154.2,245.2" fill="none" stroke="#c4c4c4" stroke-width="0.6"/>
<polygon points="117.0,228.2 129.5,233.8 135.0,245.8 122.5,240.2" fill="#fff"/>
<polyline points="117.0,228.2 122.5,240.2 135.0,245.8" fill="none" stroke="#c4c4c4" stroke-width="0.6"/>
<polygon points="107.0,207.8 119.5,213.3 125.0,225.3 112.5,219.8" fill="#fff"/>
<polyline points="107.0,207.8 112.5,219.8 125.0,225.3" fill="none" stroke="#c4c4c4" stroke-width="0.6"/>
<polygon points="98.3,244.7 110.8,250.2 116.3,262.1 103.8,256.6" fill="#fff"/>
<polyline points="98.3,244.7 103.8,256.6 116.3,262.1" fill="none" stroke="#c4c4c4" stroke-width="0.6"/>
<polygon points="93.0,228.8 105.5,234.3 111.0,246.3 98.5,240.8" fill="#fff"/>
<polyline points="93.0,228.8 98.5,240.8 111.0,246.3" fill="none" stroke="#c4c4c4" stroke-width="0.6"/>
<polygon points="93.0,210.2 105.5,215.8 111.0,227.8 98.5,222.2" fill="#fff"/>
<polyline points="93.0,210.2 98.5,222.2 111.0,227.8" fill="none" stroke="#c4c4c4" stroke-width="0.6"/>
<polygon points="75.0,205.2 87.5,210.8 93.0,222.8 80.5,217.2" fill="#fff"/>
<polyline points="75.0,205.2 80.5,217.2 93.0,222.8" fill="none" stroke="#c4c4c4" stroke-width="0.6"/>
<polygon points="116.5,251.2 129.0,256.8 134.5,268.8 122.0,263.2" fill="#fff"/>
<polyline points="116.5,251.2 122.0,263.2 134.5,268.8" fill="none" stroke="#c4c4c4" stroke-width="0.6"/>
<polygon points="61.0,251.2 73.5,256.8 79.0,268.8 66.5,263.2" fill="#fff"/>
<polyline points="61.0,251.2 66.5,263.2 79.0,268.8" fill="none" stroke="#c4c4c4" stroke-width="0.6"/>
<polygon points="11.0,236.2 23.5,241.8 29.0,253.8 16.5,248.2" fill="#fff"/>
<polyline points="11.0,236.2 16.5,248.2 29.0,253.8" fill="none" stroke="#c4c4c4" stroke-width="0.6"/>
<polygon points="146.0,213.2 158.5,218.8 164.0,230.8 151.5,225.2" fill="#fff"/>
<polyline points="146.0,213.2 151.5,225.2 164.0,230.8" fill="none" stroke="#c4c4c4" stroke-width="0.6"/>
</g>
<linearGradient id="gr" x1="0" y1="193" x2="0" y2="268" gradientUnits="userSpaceOnUse"><stop offset="0" stop-color="#f4f4f4"/><stop offset="0.45" stop-color="#dcdcdc"/><stop offset="1" stop-color="#c2c2c2"/></linearGradient>
<ellipse cx="88.8" cy="230.2" rx="75.6" ry="36.6" fill="none" stroke="url(#gr)" stroke-width="1.1"/>
<circle cx="49.6" cy="203.8" r="1.15" fill="#8f8f8f"/>
<circle cx="55.8" cy="203.4" r="1.15" fill="#8f8f8f"/>
<circle cx="49.4" cy="211.9" r="1.15" fill="#8f8f8f"/>
<circle cx="52.3" cy="217.0" r="1.15" fill="#8f8f8f"/>
<circle cx="62.0" cy="210.2" r="1.15" fill="#8f8f8f"/>
<circle cx="66.9" cy="209.6" r="1.15" fill="#8f8f8f"/>
<circle cx="72.5" cy="208.1" r="1.15" fill="#8f8f8f"/>
<circle cx="61.0" cy="218.4" r="1.15" fill="#8f8f8f"/>
<circle cx="65.5" cy="220.1" r="1.15" fill="#8f8f8f"/>
<circle cx="66.9" cy="217.2" r="1.15" fill="#8f8f8f"/>
<circle cx="72.7" cy="216.6" r="1.15" fill="#8f8f8f"/>
<circle cx="51.7" cy="225.1" r="1.15" fill="#8f8f8f"/>
<circle cx="64.6" cy="228.3" r="1.15" fill="#8f8f8f"/>
<circle cx="72.1" cy="224.8" r="1.15" fill="#8f8f8f"/>
<circle cx="71.6" cy="227.7" r="1.15" fill="#8f8f8f"/>
<circle cx="79.2" cy="223.0" r="1.15" fill="#8f8f8f"/>
<circle cx="81.8" cy="217.8" r="1.15" fill="#8f8f8f"/>
<circle cx="71.0" cy="235.9" r="1.15" fill="#8f8f8f"/>
<circle cx="79.5" cy="207.8" r="1.15" fill="#8f8f8f"/>
<circle cx="82.1" cy="210.2" r="1.15" fill="#8f8f8f"/>
<circle cx="86.7" cy="210.8" r="1.15" fill="#8f8f8f"/>
<circle cx="88.5" cy="214.3" r="1.15" fill="#8f8f8f"/>
<circle cx="89.1" cy="217.8" r="1.15" fill="#8f8f8f"/>
<circle cx="88.5" cy="223.0" r="1.15" fill="#8f8f8f"/>
<circle cx="89.7" cy="225.9" r="1.15" fill="#8f8f8f"/>
<circle cx="78.6" cy="230.6" r="1.15" fill="#8f8f8f"/>
<circle cx="89.1" cy="233.0" r="1.15" fill="#8f8f8f"/>
<circle cx="84.4" cy="240.0" r="1.15" fill="#8f8f8f"/>
<circle cx="88.5" cy="241.7" r="1.15" fill="#8f8f8f"/>
<circle cx="83.8" cy="248.1" r="1.15" fill="#8f8f8f"/>
<circle cx="91.4" cy="235.9" r="1.15" fill="#8f8f8f"/>
<circle cx="88.3" cy="222.4" r="1.15" fill="#8f8f8f"/>
<circle cx="91.6" cy="227.7" r="1.15" fill="#8f8f8f"/>
<circle cx="96.5" cy="210.2" r="1.15" fill="#8f8f8f"/>
<circle cx="97.1" cy="217.2" r="1.15" fill="#8f8f8f"/>
<circle cx="100.0" cy="209.0" r="1.15" fill="#8f8f8f"/>
<circle cx="96.7" cy="225.1" r="1.15" fill="#8f8f8f"/>
<circle cx="100.0" cy="226.0" r="1.15" fill="#8f8f8f"/>
<circle cx="99.4" cy="234.1" r="1.15" fill="#8f8f8f"/>
<circle cx="105.3" cy="206.7" r="1.15" fill="#8f8f8f"/>
<circle cx="105.6" cy="214.9" r="1.15" fill="#8f8f8f"/>
<circle cx="111.1" cy="205.5" r="1.15" fill="#8f8f8f"/>
<circle cx="111.5" cy="214.3" r="1.15" fill="#8f8f8f"/>
<circle cx="116.6" cy="211.4" r="1.15" fill="#8f8f8f"/>
<circle cx="117.5" cy="220.1" r="1.15" fill="#8f8f8f"/>
<circle cx="111.1" cy="222.4" r="1.15" fill="#8f8f8f"/>
<circle cx="117.3" cy="228.6" r="1.15" fill="#8f8f8f"/>
<circle cx="113.8" cy="231.8" r="1.15" fill="#8f8f8f"/>
<circle cx="113.4" cy="239.7" r="1.15" fill="#8f8f8f"/>
<circle cx="131.0" cy="223.0" r="1.15" fill="#8f8f8f"/>
<circle cx="131.0" cy="231.2" r="1.15" fill="#8f8f8f"/>
<circle cx="117.5" cy="203.2" r="1.15" fill="#8f8f8f"/>
<circle cx="119.3" cy="203.8" r="1.15" fill="#8f8f8f"/>
<circle cx="84.8" cy="247.2" r="1.15" fill="#8f8f8f"/>
<circle cx="112.8" cy="242.6" r="1.15" fill="#8f8f8f"/>
<circle cx="52.0" cy="225.0" r="1.15" fill="#8f8f8f"/>
<circle cx="64.9" cy="228.6" r="1.15" fill="#8f8f8f"/>
<circle cx="71.9" cy="235.6" r="1.15" fill="#8f8f8f"/>
<circle cx="100.0" cy="234.4" r="1.15" fill="#8f8f8f"/>
<circle cx="57.0" cy="207.0" r="1.15" fill="#8f8f8f"/>
<circle cx="76.0" cy="213.0" r="1.15" fill="#8f8f8f"/>
<circle cx="104.0" cy="220.0" r="1.15" fill="#8f8f8f"/>
<circle cx="122.0" cy="208.0" r="1.15" fill="#8f8f8f"/>
<circle cx="125.0" cy="216.0" r="1.15" fill="#8f8f8f"/>
<circle cx="60.0" cy="231.0" r="1.15" fill="#8f8f8f"/>
<circle cx="77.0" cy="240.0" r="1.15" fill="#8f8f8f"/>
<circle cx="95.0" cy="244.0" r="1.15" fill="#8f8f8f"/>
<circle cx="106.0" cy="230.0" r="1.15" fill="#8f8f8f"/>
<circle cx="123.0" cy="226.0" r="1.15" fill="#8f8f8f"/>
<circle cx="67.0" cy="242.0" r="1.15" fill="#8f8f8f"/>
<ellipse cx="89" cy="179.5" rx="51.7" ry="27.6" fill="url(#gm)" fill-opacity="0.92" stroke="#a0a0a0" stroke-width="0.7" stroke-dasharray="1.4,1.2"/>
<circle cx="75.9" cy="188.7" r="1.1" fill="#b5b5b5"/>
<circle cx="102.1" cy="187.3" r="1.1" fill="#b5b5b5"/>
<circle cx="92.9" cy="192.6" r="1.1" fill="#b5b5b5"/>
<circle cx="54.6" cy="195.1" r="1.1" fill="#b5b5b5"/>
<circle cx="53.0" cy="193.8" r="1.1" fill="#b5b5b5"/>
<circle cx="55.6" cy="187.6" r="1.1" fill="#b5b5b5"/>
<circle cx="84.0" cy="200.9" r="1.1" fill="#b5b5b5"/>
<circle cx="59.9" cy="190.0" r="1.1" fill="#b5b5b5"/>
<circle cx="100.2" cy="203.1" r="1.1" fill="#b5b5b5"/>
<circle cx="96.2" cy="193.1" r="1.1" fill="#b5b5b5"/>
<circle cx="128.1" cy="186.8" r="1.1" fill="#b5b5b5"/>
<circle cx="118.7" cy="191.2" r="1.1" fill="#b5b5b5"/>
<circle cx="61.5" cy="188.1" r="1.1" fill="#b5b5b5"/>
<circle cx="74.7" cy="200.7" r="1.1" fill="#b5b5b5"/>
<circle cx="64.5" cy="196.5" r="1.1" fill="#b5b5b5"/>
<circle cx="101.1" cy="192.7" r="1.1" fill="#b5b5b5"/>
<circle cx="93.8" cy="187.1" r="1.1" fill="#b5b5b5"/>
<circle cx="54.8" cy="189.7" r="1.1" fill="#b5b5b5"/>
<circle cx="104.4" cy="193.7" r="1.1" fill="#b5b5b5"/>
<circle cx="75.1" cy="196.5" r="1.1" fill="#b5b5b5"/>
<circle cx="86.3" cy="191.4" r="1.1" fill="#b5b5b5"/>
<circle cx="113.6" cy="198.6" r="1.1" fill="#b5b5b5"/>
<polyline points="14.6,123.6 32.9,131.4 41.4,167.5" fill="none" stroke="#8c8c8c" stroke-width="0.7" stroke-dasharray="1.4,1.1"/>
<polyline points="163.2,123.6 144.9,131.4 136.4,167.5" fill="none" stroke="#8c8c8c" stroke-width="0.7" stroke-dasharray="1.4,1.1"/>
<ellipse cx="88.9" cy="116" rx="75.8" ry="40.7" fill="none" stroke="#959595" stroke-width="0.9"/>
<ellipse cx="56.8" cy="173.9" rx="4.2" ry="2.2" fill="#bdbdbd" opacity="0.6"/>
<ellipse cx="82.5" cy="169.1" rx="4.2" ry="2.2" fill="#bdbdbd" opacity="0.6"/>
<ellipse cx="103.6" cy="167.4" rx="4.2" ry="2.2" fill="#bdbdbd" opacity="0.6"/>
<ellipse cx="119.0" cy="173.5" rx="4.2" ry="2.2" fill="#bdbdbd" opacity="0.6"/>
<ellipse cx="73.1" cy="177.4" rx="4.2" ry="2.2" fill="#bdbdbd" opacity="0.6"/>
<ellipse cx="97.9" cy="180.5" rx="4.2" ry="2.2" fill="#bdbdbd" opacity="0.6"/>
<ellipse cx="56.8" cy="186.3" rx="4.2" ry="2.2" fill="#bdbdbd" opacity="0.6"/>
<ellipse cx="79.6" cy="188.4" rx="4.2" ry="2.2" fill="#bdbdbd" opacity="0.6"/>
<ellipse cx="108.8" cy="184.9" rx="4.2" ry="2.2" fill="#bdbdbd" opacity="0.6"/>
<ellipse cx="126.0" cy="188.4" rx="4.2" ry="2.2" fill="#bdbdbd" opacity="0.6"/>
<ellipse cx="92.3" cy="198.1" rx="4.2" ry="2.2" fill="#bdbdbd" opacity="0.6"/>
<circle cx="56.3" cy="169.9" r="4.4" fill="url(#gc)"/>
<circle cx="82.0" cy="165.1" r="4.4" fill="url(#gc)"/>
<circle cx="103.1" cy="163.4" r="4.4" fill="url(#gc)"/>
<circle cx="118.5" cy="169.5" r="4.4" fill="url(#gc)"/>
<circle cx="72.6" cy="173.4" r="4.4" fill="url(#gc)"/>
<circle cx="97.4" cy="176.5" r="4.4" fill="url(#gc)"/>
<circle cx="56.3" cy="182.3" r="4.4" fill="url(#gc)"/>
<circle cx="79.1" cy="184.4" r="4.4" fill="url(#gc)"/>
<circle cx="108.3" cy="180.9" r="4.4" fill="url(#gc)"/>
<circle cx="125.5" cy="184.4" r="4.4" fill="url(#gc)"/>
<circle cx="91.8" cy="194.1" r="4.4" fill="url(#gc)"/>
</g>
</svg></body></html>
